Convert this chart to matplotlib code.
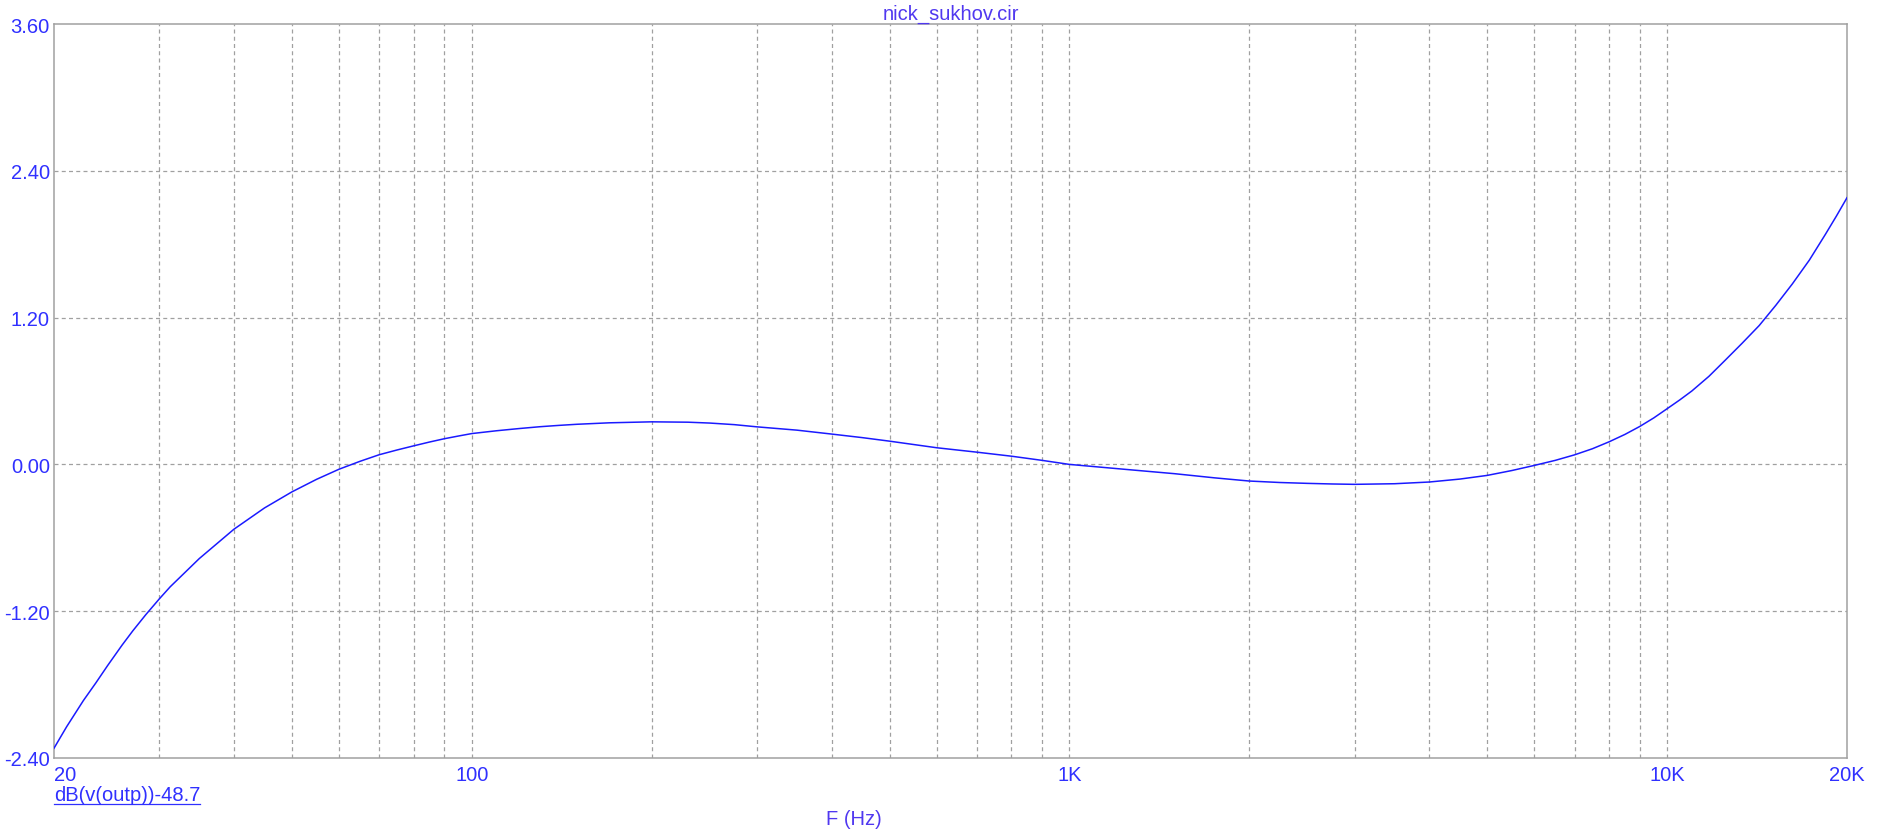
import matplotlib
matplotlib.use("Agg")
import matplotlib.pyplot as plt
from matplotlib.lines import Line2D
from matplotlib.ticker import FixedLocator, NullFormatter, NullLocator

# ---- data ----
freq_hz = [20, 21, 22.4, 23.5, 24.6, 26, 27.1, 28.5, 30, 31.3, 35, 40, 45, 50, 55,
           60, 65, 70, 75, 80, 85, 90, 95, 100, 110, 120, 130, 140, 150, 170, 200,
           230, 250, 275, 300, 350, 400, 450, 500, 600, 700, 800, 900, 1000, 1250,
           1500, 1750, 2000, 2250, 2500, 2750, 3000, 3500, 4000, 4500, 5000, 5500,
           6000, 6500, 7000, 7500, 8000, 8500, 9000, 9500, 10000, 10500, 11000,
           11750, 12500, 13350, 14260, 15200, 16200, 17300, 18400, 19200, 20000]
gain_db = [-2.32, -2.144, -1.93, -1.786, -1.643, -1.477, -1.36, -1.227, -1.10, -1.0,
           -0.77, -0.53, -0.356, -0.225, -0.122, -0.039, 0.025, 0.079, 0.118, 0.152,
           0.183, 0.21, 0.232, 0.252, 0.275, 0.293, 0.308, 0.319, 0.328, 0.340, 0.348,
           0.345, 0.338, 0.325, 0.307, 0.28, 0.248, 0.219, 0.19, 0.136, 0.10, 0.067,
           0.033, 0.0, -0.042, -0.076, -0.11, -0.136, -0.148, -0.155, -0.16, -0.163,
           -0.158, -0.144, -0.12, -0.09, -0.05, -0.008, 0.033, 0.078, 0.128, 0.185,
           0.245, 0.31, 0.38, 0.455, 0.527, 0.60, 0.72, 0.85, 0.99, 1.135, 1.30,
           1.475, 1.67, 1.88, 2.03, 2.18]

x_major = [20, 100, 1000, 10000, 20000]
x_major_labels = ["20", "100", "1K", "10K", "20K"]
x_grid = [30, 40, 50, 60, 70, 80, 90, 100, 200, 300, 400, 500, 600, 700, 800, 900,
          1000, 2000, 3000, 4000, 5000, 6000, 7000, 8000, 9000, 10000]
y_ticks = [-2.40, -1.20, 0.00, 1.20, 2.40, 3.60]
y_grid = [-1.20, 0.00, 1.20, 2.40]

title = "nick_sukhov.cir"
xlabel = "F (Hz)"
trace_label = "dB(v(outp))-48.7"

# ---- style ----
plt.rcParams['font.family'] = ['Liberation Sans', 'DejaVu Sans']
text_blue = '#3030ff'
label_violet = '#5038f0'
grid_gray = '#a0a0a0'
FS = 14.5

W, H, DPI = 1892, 837, 100
fig = plt.figure(figsize=(W / DPI, H / DPI), dpi=DPI)
L, R, T, B = 54, 1847, 25, 759
ax = fig.add_axes([L / W, 1 - B / H, (R - L) / W, (B - T) / H])

ax.set_xscale('log')
ax.set_xlim(20, 20000)
ax.set_ylim(-2.4, 3.6)

dash = (0, (3.2, 2.6))
for f in x_grid:
    ax.axvline(f, color=grid_gray, lw=0.9, linestyle=dash, zorder=1)
for y in y_grid:
    ax.axhline(y, color=grid_gray, lw=0.9, linestyle=dash, zorder=1)

ax.plot(freq_hz, gain_db, color='#1a1aff', lw=1.1, zorder=3, clip_on=True)

ax.xaxis.set_major_locator(FixedLocator(x_major))
ax.set_xticklabels(x_major_labels)
ax.xaxis.set_minor_locator(NullLocator())
ax.xaxis.set_minor_formatter(NullFormatter())
ax.set_yticks(y_ticks)
ax.set_yticklabels([f"{v:.2f}" for v in y_ticks])
ax.tick_params(axis='both', length=0, labelsize=FS, labelcolor=text_blue)
ax.tick_params(axis='x', pad=5)
ax.tick_params(axis='y', pad=3)
ax.get_xticklabels()[0].set_ha('left')

for s in ax.spines.values():
    s.set_color(grid_gray)
    s.set_linewidth(1.1)

fig.text((L + R) / 2 / W, 1 - 14 / H, title, ha='center', va='center',
         fontsize=FS, color=label_violet)
fig.text(854 / W, 1 - 820 / H, xlabel, ha='center', va='center',
         fontsize=FS, color=label_violet)

tl = fig.text(L / W, 1 - 796 / H, trace_label, ha='left', va='center',
              fontsize=FS, color=text_blue)
fig.canvas.draw()
bb = tl.get_window_extent()
uy = (bb.y0 + 1) / H
fig.add_artist(Line2D([bb.x0 / W, bb.x1 / W], [uy, uy], transform=fig.transFigure,
                      color=text_blue, lw=0.9))

fig.savefig("out.png", dpi=DPI)
